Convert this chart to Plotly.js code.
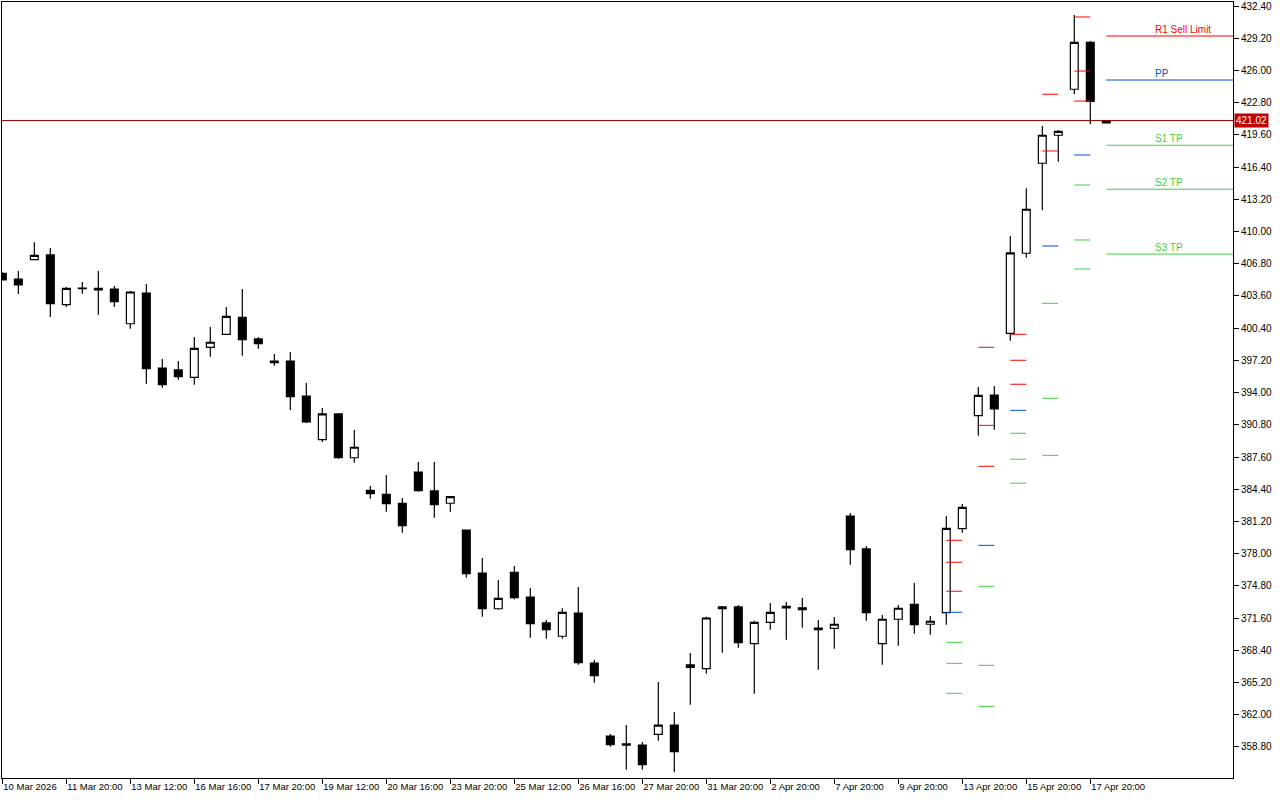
<!DOCTYPE html>
<html>
<head>
<meta charset="utf-8">
<script src="https://cdn.plot.ly/plotly-3.0.1.min.js"></script>
<style>
html,body{margin:0;padding:0;background:#fff;}
#chart{width:1280px;height:800px;}
</style>
</head>
<body>
<div id="chart"></div>
<script>
// ---- Data (bar index 0..69) ----
const barIndex = [];
for (let i = 0; i < 70; i++) barIndex.push(i);

const open = [405.85,405.28,407.20,407.67,402.73,404.33,404.36,404.29,400.84,403.89,
396.44,396.25,395.52,398.50,399.79,401.48,399.33,397.14,397.14,393.66,
389.33,391.88,387.53,384.30,383.90,383.00,386.11,384.23,383.01,380.35,
376.08,372.53,376.15,373.70,371.12,369.80,372.11,367.14,359.89,359.10,
359.00,360.06,360.98,366.95,366.58,372.71,372.71,369.06,371.18,372.77,
372.62,370.60,370.59,381.74,378.47,369.06,371.49,372.97,370.99,372.14,
380.48,391.71,393.76,399.89,407.84,416.78,419.56,424.13,428.79,420.80];
const high = [405.95,406.08,408.93,408.36,404.49,404.99,406.08,404.59,404.09,404.79,
397.34,397.14,399.52,400.52,402.50,404.29,399.50,397.84,398.03,394.96,
392.47,391.95,390.29,384.72,385.82,383.53,387.11,387.11,383.66,380.40,
377.57,375.39,376.78,374.60,371.41,372.58,374.70,367.44,360.09,360.98,
359.29,365.26,362.27,368.14,371.74,372.80,372.90,371.34,373.10,373.20,
373.60,371.41,371.71,382.04,378.77,371.91,372.90,375.09,371.81,381.74,
382.94,394.56,394.66,409.56,414.29,420.48,420.08,431.51,428.92,421.02];
const low = [405.15,403.80,407.20,401.51,402.50,403.82,401.74,402.50,400.35,394.89,
394.49,395.28,394.79,397.57,399.79,397.67,398.36,396.67,392.27,390.98,
389.09,387.43,387.04,383.46,382.17,380.09,384.16,381.58,382.17,375.62,
371.74,372.44,373.47,369.66,369.56,369.56,366.97,365.19,358.83,356.55,
356.55,359.43,356.29,363.00,366.08,368.17,368.66,364.10,370.45,369.46,
370.65,366.48,368.56,376.91,371.34,366.97,368.86,370.05,369.96,370.95,
380.09,389.72,390.32,399.15,407.40,412.11,416.93,423.63,420.65,420.80];
const close = [405.20,404.69,407.64,402.83,404.36,404.38,404.20,403.03,403.99,396.38,
394.79,395.58,398.40,399.00,401.58,399.26,398.86,396.97,393.59,391.08,
391.88,387.53,388.57,383.96,382.97,380.78,384.26,382.87,383.66,376.01,
372.53,373.57,373.64,371.05,370.45,372.18,367.17,365.88,359.03,358.99,
357.04,360.98,358.33,366.70,371.61,372.54,369.16,371.18,372.18,372.62,
372.45,370.45,370.99,378.40,372.14,371.49,372.58,370.95,371.29,380.52,
382.61,393.73,392.37,407.87,412.21,419.56,419.95,428.79,422.93,421.02];

// x-axis tick labels (every 4 bars)
const tickIdx = [0,4,8,12,16,20,24,28,32,36,40,44,48,52,56,60,64,68];
const tickLabels = ["10 Mar 2026","11 Mar 20:00","13 Mar 12:00","16 Mar 16:00","17 Mar 20:00",
"19 Mar 12:00","20 Mar 16:00","23 Mar 20:00","25 Mar 12:00","26 Mar 16:00","27 Mar 20:00",
"31 Mar 20:00","2 Apr 20:00","7 Apr 20:00","9 Apr 20:00","13 Apr 20:00","15 Apr 20:00","17 Apr 20:00"];

// Daily pivot levels of previous days (segment starts at bar index, one bar long)
const pivotStart = [59, 61, 63, 65, 67];
const R3 = [379.33, 398.50, 399.79, 433.11, 431.31];
const R2 = [377.15, 390.75, 397.21, 423.63, 425.94];
const R1 = [374.27, 386.68, 394.83, 418.00, 422.96];
const PP = [372.18, 378.83, 392.24, 408.56, 417.60];
const S1 = [369.20, 374.76, 389.96, 402.87, 414.62];
const S2 = [367.11, 366.91, 387.38, 393.44, 409.16];
const S3 = [364.13, 362.84, 385.00, 387.77, 406.28];

// Current day levels
const curStart = 69;
const curLevelNames = ["R1 Sell Limit", "PP", "S1 TP", "S2 TP", "S3 TP"];
const curLevelValues = [429.42, 425.05, 418.57, 414.20, 407.76];
const curLevelKinds = ["r", "p", "s", "s", "s"];

const lastPrice = 421.02;

// ---- Styles ----
const RED = "#FF0000", BLUE = "#0050D2", GREEN = "#3FCF3F";
const PRICE_LINE = "#900000", PRICE_BOX = "#C00000";
const FONT = "Liberation Sans, Arial, sans-serif";
const X_END = 76.92;
const colorOf = {r: RED, p: BLUE, s: GREEN};

function segTrace(levelSets, color) {
  const xs = [], ys = [];
  levelSets.forEach(arr => {
    pivotStart.forEach((s, k) => {
      xs.push(s, s + 1, null);
      ys.push(arr[k], arr[k], null);
    });
  });
  return {type: "scatter", mode: "lines", x: xs, y: ys, hoverinfo: "skip",
          line: {color: color, width: 1}, showlegend: false};
}

const traces = [{
  type: "candlestick",
  x: barIndex, open: open, high: high, low: low, close: close,
  increasing: {line: {color: "#000", width: 1.2}, fillcolor: "#FFFFFF"},
  decreasing: {line: {color: "#000", width: 1.2}, fillcolor: "#000000"},
  whiskerwidth: 0, showlegend: false, hoverinfo: "skip"
}];
traces.push(segTrace([R3, R2, R1], RED));
traces.push(segTrace([PP], BLUE));
traces.push(segTrace([S1, S2, S3], GREEN));

const annotations = [];
curLevelValues.forEach((v, k) => {
  const c = colorOf[curLevelKinds[k]];
  traces.push({type: "scatter", mode: "lines", x: [curStart, X_END], y: [v, v],
    line: {color: c, width: 1}, hoverinfo: "skip", showlegend: false});
  annotations.push({x: 71.9, y: v, xref: "x", yref: "y", text: curLevelNames[k],
    showarrow: false, xanchor: "left", yanchor: "middle", yshift: 7,
    font: {family: FONT, size: 10, color: c}});
});

annotations.push({xref: "paper", x: 1, y: lastPrice, yref: "y", text: lastPrice.toFixed(2),
  showarrow: false, xanchor: "left", yanchor: "middle", xshift: 1,
  bgcolor: PRICE_BOX, borderpad: 1, font: {family: FONT, size: 10, color: "#FFFFFF"}});

const layout = {
  width: 1280, height: 800,
  margin: {l: 2, r: 47, t: 2, b: 22, pad: 0},
  paper_bgcolor: "#FFFFFF", plot_bgcolor: "#FFFFFF",
  font: {family: FONT, size: 10, color: "#000"},
  showlegend: false,
  xaxis: {
    type: "linear", range: [-0.02, X_END], rangeslider: {visible: false},
    tickmode: "array", tickvals: tickIdx, ticktext: tickLabels, tickangle: 0,
    ticks: "outside", ticklen: 5, tickcolor: "#000", tickwidth: 1,
    ticklabelposition: "outside right", automargin: false,
    showline: true, mirror: true, linecolor: "#000", linewidth: 1,
    showgrid: false, zeroline: false, fixedrange: true,
    tickfont: {family: FONT, size: 9.5, color: "#000"}
  },
  yaxis: {
    side: "right", range: [355.72, 432.797], automargin: false,
    tickmode: "linear", tick0: 358.8, dtick: 3.2, tickformat: ".2f",
    ticks: "outside", ticklen: 5, tickcolor: "#000", tickwidth: 1,
    showline: true, mirror: true, linecolor: "#000", linewidth: 1,
    showgrid: false, zeroline: false, fixedrange: true,
    tickfont: {family: FONT, size: 10, color: "#000"}
  },
  shapes: [{type: "line", xref: "paper", x0: 0, x1: 1, yref: "y", y0: lastPrice, y1: lastPrice,
    line: {color: PRICE_LINE, width: 1}, layer: "above"}],
  annotations: annotations
};

Plotly.newPlot("chart", traces, layout, {displayModeBar: false, staticPlot: true});
</script>
</body>
</html>
